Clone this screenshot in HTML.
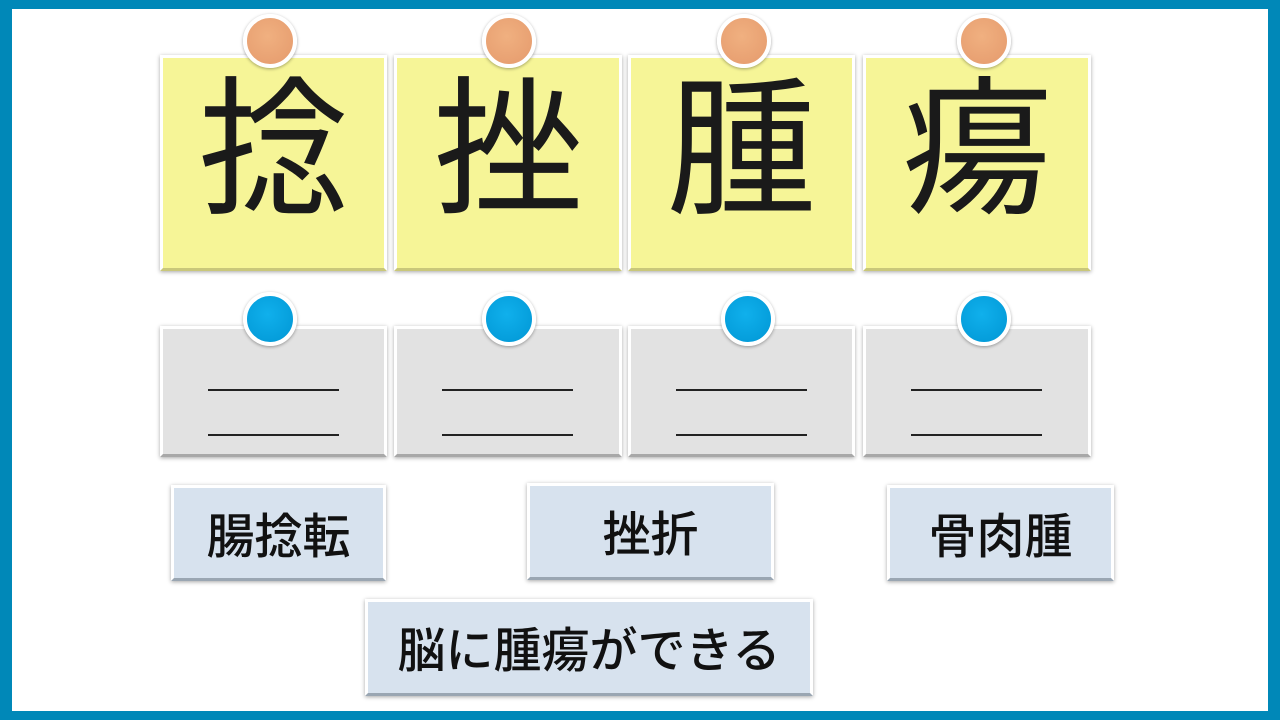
<!DOCTYPE html>
<html><head><meta charset="utf-8"><style>
*{margin:0;padding:0;box-sizing:border-box}
body{width:1280px;height:720px;background:#0088b8;position:relative;overflow:hidden;font-family:"Liberation Sans","Noto Sans CJK JP",sans-serif}
.inner{position:absolute;left:12px;top:9px;width:1256px;height:702px;background:#fff}
.card{position:absolute;border:3px solid #fff;box-shadow:0 1px 4px rgba(0,0,0,.35)}
.y{background:#f6f597;border-bottom:3px solid #c9c77a;top:55px;height:216px}
.g{background:#e2e2e2;border-bottom:3px solid #a8a8a8;top:326px;height:131px}
.big{position:absolute;left:0;right:0;top:-20px;text-align:center;font-size:150px;line-height:200px;color:#1a1a1a;font-family:"Noto Sans CJK JP",sans-serif}
.ln{position:absolute;left:45px;width:131px;height:2px;background:#222}
.pin{position:absolute;width:54px;height:54px;border-radius:50%;border:4px solid #fff;box-shadow:0 1px 3px rgba(0,0,0,.35)}
.o{background:radial-gradient(circle at 45% 40%,#f0b080,#e59a6c);top:14px}
.b{background:radial-gradient(circle at 45% 40%,#10b0ec,#0096d4);top:292px}
.lab{position:absolute;background:#d7e2ee;border:3px solid #fff;border-bottom:3px solid #9aa6b2;box-shadow:0 1px 4px rgba(0,0,0,.35);text-align:center;font-size:48px;font-weight:500;color:#111;font-family:"Noto Sans CJK JP",sans-serif}
</style></head><body>
<div class="inner"></div>
<div class="card y" style="left:160px;width:227px"><div class="big">捻</div></div>
<div class="card y" style="left:394px;width:228px"><div class="big">挫</div></div>
<div class="card y" style="left:628px;width:227px"><div class="big">腫</div></div>
<div class="card y" style="left:863px;width:228px"><div class="big">瘍</div></div>
<div class="pin o" style="left:243px"></div>
<div class="pin o" style="left:482px"></div>
<div class="pin o" style="left:717px"></div>
<div class="pin o" style="left:957px"></div>
<div class="card g" style="left:160px;width:227px"><div class="ln" style="top:60px"></div><div class="ln" style="top:105px"></div></div>
<div class="card g" style="left:394px;width:228px"><div class="ln" style="top:60px"></div><div class="ln" style="top:105px"></div></div>
<div class="card g" style="left:628px;width:227px"><div class="ln" style="top:60px"></div><div class="ln" style="top:105px"></div></div>
<div class="card g" style="left:863px;width:228px"><div class="ln" style="top:60px"></div><div class="ln" style="top:105px"></div></div>
<div class="pin b" style="left:243px"></div>
<div class="pin b" style="left:482px"></div>
<div class="pin b" style="left:721px"></div>
<div class="pin b" style="left:957px"></div>
<div class="lab" style="left:171px;top:485px;width:215px;height:96px;line-height:88px">腸捻転</div>
<div class="lab" style="left:527px;top:483px;width:247px;height:97px;line-height:89px">挫折</div>
<div class="lab" style="left:887px;top:485px;width:227px;height:96px;line-height:88px">骨肉腫</div>
<div class="lab" style="left:365px;top:599px;width:448px;height:97px;line-height:89px">脳に腫瘍ができる</div>
</body></html>
